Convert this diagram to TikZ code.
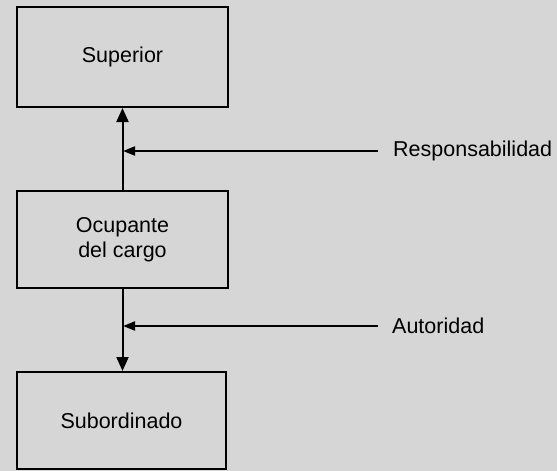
\documentclass[tikz,border=0pt]{standalone}
\usepackage{fontspec}
\setmainfont{Liberation Sans}
\usepackage{tikz}
\usetikzlibrary{arrows.meta, positioning}
\definecolor{fondo}{RGB}{214,214,214}

\begin{document}
\begin{tikzpicture}[x=1pt, y=-1pt,
				>={Triangle[length=14pt, width=12pt]},
				caja/.style={draw=black, line width=2pt, fill=fondo,
					minimum width=211pt, minimum height=97pt,
					font=\fontsize{21.5}{26}\selectfont, align=center},
				etiq/.style={font=\fontsize{21.5}{26}\selectfont, anchor=west, inner sep=0pt},
				linea/.style={line width=2pt},
				flecha/.style={line width=2pt, -{Triangle[length=12pt, width=9pt]}}
				]
				\useasboundingbox[fill=fondo] (0,0) rectangle (557,471);
				
				% Cajas
				\node[caja, minimum height=100pt] (sup) at (122.5,57) {Superior};
				\node[caja] (ocu) at (122.5,239.5) {Ocupante\\[-1pt]del cargo};
				\node[caja, minimum width=209pt] (sub) at (121.5,420.5) {Subordinado};
				
				% Etiquetas
				\node[etiq] (resp) at (393,151) {Responsabilidad};
				\node[etiq] (aut) at (392,326) {Autoridad};
				\coordinate (cr) at (123,151);
				\coordinate (ca) at (123,326);
				
				\draw[linea, ->] (ocu.north) -- (sup.south);
				\draw[linea, ->] (ocu.south) -- (ocu.south |- sub.north);
				\draw[flecha] ([xshift=-15pt]resp.west) -- (cr);
				\draw[flecha] ([xshift=-14pt]aut.west) -- (ca);
			\end{tikzpicture}
\end{document}
